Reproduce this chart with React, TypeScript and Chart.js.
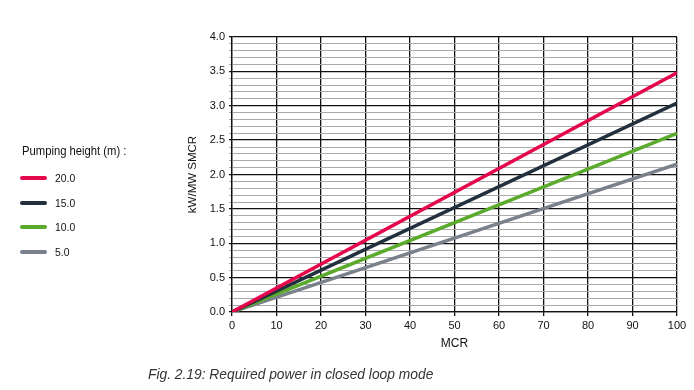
import React, { useEffect, useRef } from "react";
import { Chart, registerables } from "chart.js";

Chart.register(...registerables);

const mcr = [0, 100];
const h20 = [0, 3.48];
const h15 = [0, 3.04];
const h10 = [0, 2.6];
const h5 = [0, 2.15];
const seriesLabels = ["20.0", "15.0", "10.0", "5.0"];
const seriesColors = ["#e5074c", "#22303e", "#5aaa2c", "#79818c"];
const legendTitle = "Pumping height (m) :";
const yTitle = "kW/MW SMCR";
const xTitle = "MCR";
const caption = "Fig. 2.19: Required power in closed loop mode";

const FONT = "'Liberation Sans', Arial, Helvetica, sans-serif";

export default function App() {
  const ref = useRef<HTMLCanvasElement | null>(null);
  useEffect(() => {
    if (!ref.current) return;
    const all = [h20, h15, h10, h5];
    const chart = new Chart(ref.current, {
      type: "line",
      data: {
        datasets: all.map((vals, i) => ({
          label: seriesLabels[i],
          data: mcr.map((x, j) => ({ x, y: vals[j] })),
          borderColor: seriesColors[i],
          backgroundColor: seriesColors[i],
          borderWidth: 3.5,
          pointRadius: 0,
          tension: 0,
        })),
      },
      options: {
        animation: false,
        responsive: false,
        maintainAspectRatio: false,
        layout: { padding: { left: 182, right: 17, top: 37, bottom: 35 } },
        plugins: { legend: { display: false }, tooltip: { enabled: false } },
        scales: {
          x: {
            type: "linear",
            min: 0,
            max: 100,
            ticks: { stepSize: 10, color: "#111", font: { family: FONT, size: 11 }, padding: 3, maxRotation: 0 },
            grid: { color: "#111", lineWidth: 1.3, tickLength: 4 },
            border: { color: "#111", width: 1.3 },
            title: { display: true, text: xTitle, color: "#111", font: { family: FONT, size: 12 }, padding: 4 },
            afterFit: (s: any) => {
              s.height = 43;
            },
          },
          y: {
            min: 0,
            max: 4,
            ticks: {
              stepSize: 0.1,
              autoSkip: false,
              color: "#111",
              font: { family: FONT, size: 11 },
              padding: 4,
              callback: (v: any) => (Math.round(Number(v) * 10) % 5 === 0 ? Number(v).toFixed(1) : ""),
            },
            grid: {
              color: (c: any) => (Math.round(c.tick.value * 10) % 5 === 0 ? "#111" : "#aaaaaa"),
              lineWidth: (c: any) => (Math.round(c.tick.value * 10) % 5 === 0 ? 1.3 : 1),
              tickLength: 3,
            },
            border: { color: "#111", width: 1.3 },
            title: { display: true, text: yTitle, color: "#111", font: { family: FONT, size: 11.5 }, padding: 4 },
            afterFit: (s: any) => {
              s.width = 50;
            },
          },
        },
      },
    });
    return () => chart.destroy();
  }, []);

  return (
    <div style={{ position: "absolute", left: 0, top: 0, width: 694, height: 390, background: "#fff", fontFamily: FONT }}>
      <canvas ref={ref} width={694} height={390} style={{ position: "absolute", left: 0, top: 0 }} />
      <div
        style={{
          position: "absolute",
          left: 22,
          top: 144,
          fontSize: 12.5,
          color: "#111",
          whiteSpace: "nowrap",
          transform: "scaleX(0.9)",
          transformOrigin: "left center",
        }}
      >
        {legendTitle}
      </div>
      {seriesLabels.map((l, i) => (
        <div key={l} style={{ position: "absolute", left: 20, top: 171 + i * 24.5, height: 14, display: "flex", alignItems: "center" }}>
          <div style={{ width: 27, height: 4, borderRadius: 2, background: seriesColors[i] }} />
          <span
            style={{
              marginLeft: 8,
              fontSize: 11.5,
              color: "#111",
              display: "inline-block",
              transform: "scaleX(0.9)",
              transformOrigin: "left center",
            }}
          >
            {l}
          </span>
        </div>
      ))}
      <div style={{ position: "absolute", left: 148, top: 367, fontSize: 13.8, fontStyle: "italic", color: "#333", whiteSpace: "nowrap" }}>
        {caption}
      </div>
    </div>
  );
}
